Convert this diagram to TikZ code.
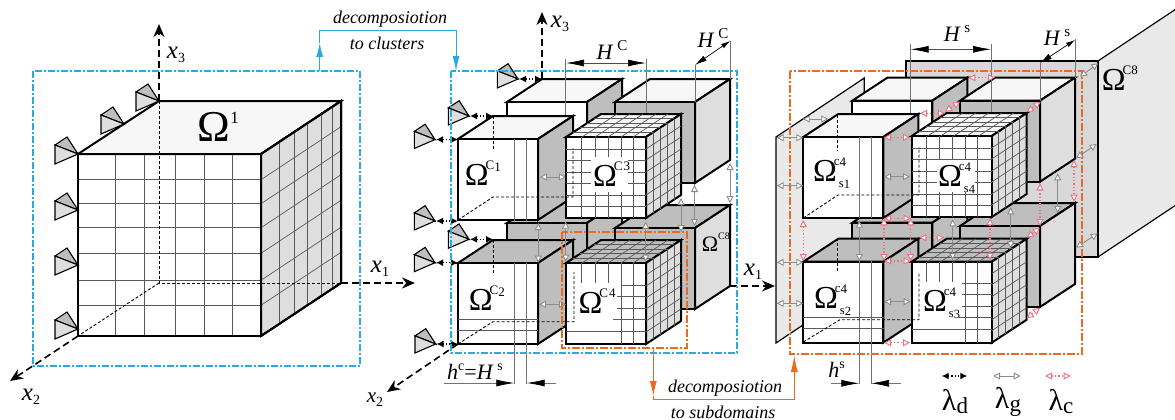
\documentclass[tikz,border=0pt]{standalone}
\usepackage{fontspec}
\setmainfont{Liberation Serif}
\usetikzlibrary{arrows.meta}
\definecolor{blueline}{HTML}{29ABE2}
\definecolor{orangeline}{HTML}{EA6A1F}
\definecolor{pinkline}{HTML}{EE6F7E}
\definecolor{topface}{HTML}{F7F7F7}
\definecolor{sideface}{HTML}{DEDEDE}
\definecolor{darkface}{HTML}{BEBEBE}
\definecolor{plateface}{HTML}{E9E9E9}
\definecolor{plateback}{HTML}{D8D8D8}
% one small cube: x, y of front top left corner, then front, top, side fill
\newcommand{\cube}[5]{
  \draw[cubeline,fill=#4] (#1,#2) -- ++(35,-23) -- ++(80,0) -- ++(-35,23) -- cycle;
  \draw[cubeline,fill=#5] (#1+80,#2) -- ++(35,-23) -- ++(0,81) -- ++(-35,23) -- cycle;
  \draw[cubeline,fill=#3] (#1,#2) rectangle ++(80,81);
}
% grid on the top and side faces of a small cube
\newcommand{\cubegrid}[2]{
  \foreach \t in {0.2,0.4,0.6,0.8} {
    \draw[gridline] (#1+35*\t,#2-23*\t) -- ++(80,0);
    \draw[gridline] (#1+80+35*\t,#2-23*\t) -- ++(0,81);
  }
  \foreach \v in {16,29,42,55,67} \draw[gridline] (#1+\v,#2) -- ++(35,-23);
  \foreach \v in {12,23,35,46,58,69} \draw[gridline] (#1+80,#2+\v) -- ++(35,-23);
}
% support: tip x, y and scale
\newcommand{\support}[3]{
  \begin{scope}[shift={(#1,#2)},scale=#3]
    \draw[line width=1.1pt,fill=darkface] (-23,-9) -- (-11,-17) -- (0,0) -- cycle;
    \draw[line width=1.1pt,fill=sideface] (-23,-9) -- (-23,10) -- (0,0) -- cycle;
  \end{scope}
}
\newcommand{\omname}[2]{Ω\rlap{\kern-3pt\raisebox{.5em}{\fontsize{13}{13}\selectfont #1}}\rlap{\kern2pt\raisebox{-.2em}{\fontsize{12.5}{12.5}\selectfont #2}}}
\newcommand{\xname}[1]{\textit{x}\raisebox{-4pt}{\fontsize{14}{14}\selectfont #1}}
\newcommand{\Hname}[1]{\textit{H}\,\raisebox{9pt}{\fontsize{15}{15}\selectfont #1}}
\begin{document}
\begin{tikzpicture}[x=1pt, y=-1pt,
  cubeline/.style={line width=2pt, line join=miter},
  gridline/.style={line width=0.7pt, black!65},
  dimline/.style={line width=0.8pt, black!55},
  hiddenline/.style={line width=0.9pt, dash pattern=on 3pt off 2pt},
  axisline/.style={line width=1.6pt, dash pattern=on 7pt off 4pt, -{Stealth[length=13pt,width=11pt]}},
  dimarrow/.style={line width=0.7pt, black!70, {Latex[black,length=18pt,width=7pt]}-{Latex[black,length=18pt,width=7pt]}},
  dimtip/.style={line width=0.7pt, black!55, -{Latex[black,length=18pt,width=7pt]}},
  blueframe/.style={blueline, line width=1.3pt, dash pattern=on 7pt off 2pt on 2pt off 2pt},
  orangeframe/.style={orangeline, line width=1.5pt, dash pattern=on 8pt off 2pt on 2pt off 2pt},
  lamd/.style={line width=1.3pt, dotted, {Latex[length=7pt,width=7pt]}-{Latex[length=7pt,width=7pt]}},
  lamg/.style={line width=0.9pt, black!45, {Triangle[open,fill=white,length=7pt,width=7pt]}-{Triangle[open,fill=white,length=7pt,width=7pt]}},
  lamc/.style={line width=1.3pt, pinkline, dotted, {Triangle[open,fill=white,length=7pt,width=7pt,line width=.9pt]}-{Triangle[open,fill=white,length=7pt,width=7pt,line width=.9pt]}},
  omnode/.style={font=\fontsize{32}{32}\selectfont, inner sep=0pt},
  xnode/.style={font=\fontsize{25}{25}\selectfont, inner sep=0pt},
  hnode/.style={font=\fontsize{22}{22}\selectfont, inner sep=0pt},
  capnode/.style={font=\itshape\fontsize{18}{18}\selectfont, inner sep=0pt},
  lamnode/.style={font=\fontsize{30}{30}\selectfont, inner sep=0pt}]
\useasboundingbox (0,0) rectangle (1175,420);

%%% Left cube
\draw[axisline] (159,101) -- (159,24);
\draw[axisline] (341,283) -- (415,283);
\draw[axisline] (78,336) -- (10,381);
\draw[blueframe] (33,71) rectangle (360,366);
\fill[white] (78,154) rectangle (261,336);
\draw[cubeline,fill=topface] (78,154) -- (159,101) -- (341,101) -- (261,154) -- cycle;
\draw[cubeline,fill=sideface] (261,154) -- (341,101) -- (341,283) -- (261,336) -- cycle;
% mesh
\foreach \v in {115.7,144.7,175.3,204.7,232.7} \draw[gridline] (\v,154) -- (\v,336);
\foreach \v in {179.7,203.7,227.7,253.3,280.3,305.3} {
  \draw[gridline] (78,\v) -- (261,\v);
  \draw[gridline] (261,\v) -- ++(80,-53);
}
\foreach \t in {0.23,0.42,0.58,0.75,0.89} \draw[gridline] (261+80*\t,154-53*\t) -- ++(0,182);
% hidden edges
\draw[hiddenline] (159,101) -- (159,283) -- (341,283);
\draw[hiddenline] (159,283) -- (78,336);
\draw[cubeline] (78,154) rectangle (261,336);
\draw[cubeline] (261,154) -- (341,101) -- (341,283) -- (261,336);
\support{78}{154}{1}
\support{124}{124}{1}
\support{159}{101}{1}
\support{78}{210}{1}
\support{78}{265}{1}
\support{78}{329}{1}
\node[omnode, font=\fontsize{44}{44}\selectfont] (om1) at (214,127) {Ω\rlap{\raisebox{.4em}{\fontsize{17}{17}\selectfont 1}}};
\node[xnode] (x3a) at (176,55) {\xname{3}};
\node[xnode] (x1a) at (380,269) {\xname{1}};
\node[xnode] (x2a) at (31,397) {\xname{2}};

% decomposition to clusters
\draw[blueline, line width=1pt, -{Latex[length=14pt,width=7pt]}] (319.7,71) -- (319.7,43);
\draw[blueline, line width=1pt, -{Latex[length=15pt,width=7pt]}] (319.7,43) -- (319.7,30.3) -- (456,30.3) -- (456,71);
\node[capnode] (capa) at (390,19) {decomposiotion};
\node[capnode] (capb) at (387,43) {to clusters};

%%% Clusters
\draw[axisline] (542,79) -- (542,12);
\draw[axisline] (730,286) -- (775,286);
\draw[axisline] (458,344) -- (387,392);
\cube{507}{223}{darkface}{darkface}{darkface}
\cube{615}{228}{darkface}{darkface}{sideface}
\cube{507}{102}{white}{topface}{darkface}
\cube{615}{102}{darkface}{topface}{sideface}
% dimension lines
\draw[dimline] (565.7,59) -- (565.7,137);
\draw[dimline] (646,59) -- (646,137);
\draw[dimline] (695,65) -- (695,102);
\draw[dimline] (730,41) -- (730,79);
\cube{458}{139}{white}{topface}{darkface}
\cube{566}{137}{white}{topface}{sideface}
\cubegrid{566}{137}
\foreach \v in {15.7,29,42,55,67} \draw[gridline] (566+\v,137) -- ++(0,81);
\foreach \v in {12,23,35,46,58,69} \draw[gridline] (566,137+\v) -- ++(80,0);
\cube{458}{263}{white}{darkface}{darkface}
\cube{566}{263}{white}{darkface}{sideface}
\cubegrid{566}{263}
\foreach \v in {15.7,29,42} \draw[gridline] (566+\v,263) -- ++(0,20);
\foreach \v in {55,67} \draw[gridline] (566+\v,263) -- ++(0,81);
\foreach \v/\w in {22/55,33/51,45/51,56/47,68/0} \draw[gridline] (566+\w,263+\v) -- (646,263+\v);
\draw[dimline] (514.3,139) -- (514.3,221);
\draw[dimline] (526.7,139) -- (526.7,221);
\draw[dimline] (514.3,263) -- (514.3,384);
\draw[dimline] (526.7,263) -- (526.7,384);
\draw[gridline] (458,319.3) -- (538,319.3);
\draw[gridline] (458,330) -- (538,330);
% hidden edges
\draw[hiddenline] (493,116) -- (493,151);
\draw[hiddenline] (458,220) -- (493,197) -- (573,197) -- (573,148);
\draw[hiddenline] (493,240) -- (493,275);
\draw[hiddenline] (458,344) -- (493,321.7) -- (574,321.7) -- (574,272);
\fill[white] (591,157) rectangle (628,192);
\node[omnode] (c3) at (605,177) {\omname{C\kern1pt 3}{}};
\node[omnode] (c1) at (476.7,176.7) {\omname{C\raisebox{-2pt}{1}}{}};
\node[omnode] (c2) at (480.8,301) {\omname{C\raisebox{-2pt}{2}}{}};
\node[omnode] (c4) at (590.5,304.5) {\omname{C\kern1pt 4}{}};
\node[omnode, font=\fontsize{22}{22}\selectfont] (c8) at (710,242) {Ω\rlap{\raisebox{.55em}{\fontsize{10}{10}\selectfont C8}}};
\node[xnode] (x3b) at (560,24) {\xname{3}};
\node[xnode] (x1b) at (753,272) {\xname{1}};
\node[xnode, font=\fontsize{21}{21}\selectfont] (x2b) at (375,400) {\xname{2}};
% supports
\support{518}{79}{0.9}
\support{469}{116}{0.9}
\support{435}{139.5}{0.9}
\support{435}{221}{0.9}
\support{469}{239.3}{0.9}
\support{435}{262.7}{0.9}
\support{435.7}{344}{0.9}
\draw[lamd] (519,79) -- (542,79);
\draw[lamd] (470,116) -- (493,116);
\draw[lamd] (436,139.5) -- (458,139.5);
\draw[lamd] (436,221) -- (458,221);
\draw[lamd] (470,239.3) -- (493,239.3);
\draw[lamd] (436,262.7) -- (458,262.7);
\draw[lamd] (436.5,344) -- (458,344);
% interface arrows
\draw[lamg] (540,177) -- (566,177);
\draw[lamg] (539,304.3) -- (566,304.3);
\draw[lamg] (538.3,223) -- (538.3,262.7);
\draw[lamg] (565.7,221.7) -- (565.7,261.7);
\draw[lamg] (645.7,221.7) -- (645.7,261.7);
\draw[lamg] (681,198) -- (681,232);
\draw[lamg] (694.5,185) -- (694.5,226);
\draw[lamg] (730,163) -- (730,203);
% dimensions
\draw[dimarrow] (566,63) -- (646,63);
\draw[line width=0.7pt, {Latex[length=12pt,width=6pt]}-{Latex[length=9pt,width=5pt]}] (695,65) -- (730,41);
\node[hnode] (hc) at (612,50) {\Hname{C}};
\node[hnode] (hd) at (713,38) {\Hname{C}};
\draw[dimtip] (444.3,383) -- (514.3,383);
\draw[dimtip] (556,383) -- (526.7,383);
\node[hnode] (hcs) at (475,372) {\textit{h}\raisebox{9pt}{\fontsize{14}{14}\selectfont c}=\textit{H}\,\raisebox{9pt}{\fontsize{14}{14}\selectfont s}};
\draw[orangeframe] (562,232) rectangle (687,348);
\draw[blueframe] (451,71) rectangle (737,353);

% decomposition to subdomains
\draw[orangeline, line width=1pt, -{Latex[length=15pt,width=7pt]}] (653.3,348) -- (653.3,396);
\draw[orangeline, line width=1pt] (653.3,396) -- (653.3,399) -- (794.3,399) -- (794.3,372);
\draw[orangeline, line width=1pt, -{Latex[length=17pt,width=7pt]}] (794.3,372) -- (794.3,355);
\node[capnode] (capc) at (725,388) {decomposiotion};
\node[capnode] (capd) at (723,412) {to subdomains};

%%% Subdomains
% plates of the neighbour clusters
\draw[cubeline,line width=1.2pt,fill=plateface] (1098,61) -- (1176,9) -- (1176,205) -- (1098,257) -- cycle;
\draw[cubeline,line width=1.2pt,fill=plateback] (906,61) rectangle (1098,257);
\draw[cubeline,line width=1.2pt,fill=plateface] (776,137) -- (864.3,78) -- (864.3,284) -- (776,343) -- cycle;
\cube{852.3}{222.7}{darkface}{darkface}{darkface}
\cube{960}{226}{darkface}{darkface}{sideface}
\cube{852.3}{100.7}{white}{topface}{darkface}
\cube{960}{100.7}{darkface}{topface}{sideface}
\draw[dimline] (910.7,44) -- (910.7,136);
\draw[dimline] (991,44) -- (991,136);
\draw[dimline] (1040,63) -- (1040,100.7);
\draw[dimline] (1075,39) -- (1075,78);
\cube{803.3}{137}{white}{topface}{darkface}
\cube{911.7}{136}{white}{topface}{sideface}
\cubegrid{911.7}{136}
\foreach \v in {15,28,41,54,66} \draw[gridline] (911.7+\v,136) -- ++(0,81);
\foreach \v in {12,23,35,46,58,69} \draw[gridline] (911.7,136+\v) -- ++(80,0);
\cube{803.3}{261.7}{white}{darkface}{darkface}
\cube{911.7}{261.7}{white}{darkface}{sideface}
\cubegrid{911.7}{261.7}
\foreach \v in {15,28,41} \draw[gridline] (911.7+\v,261.7) -- ++(0,20);
\foreach \v in {54,66} \draw[gridline] (911.7+\v,261.7) -- ++(0,81);
\foreach \v/\w in {22/50,33/50,45/50,56/47,68/0} \draw[gridline] (911.7+\w,261.7+\v) -- (991.7,261.7+\v);
\draw[dimline] (859.3,137) -- (859.3,218);
\draw[dimline] (871,137) -- (871,218);
\draw[dimline] (859.3,261) -- (859.3,384);
\draw[dimline] (871,261) -- (871,384);
\draw[gridline] (803.3,317.3) -- (884,317.3);
\draw[gridline] (803.3,328.3) -- (884,328.3);
% hidden edges
\draw[hiddenline] (837.7,114.7) -- (837.7,150);
\draw[hiddenline] (803.3,218) -- (838,195) -- (919,195) -- (919,147);
\draw[hiddenline] (837.7,238) -- (837.7,271);
\draw[hiddenline] (803.3,342) -- (840,319.7) -- (919,319.7) -- (919,272);
\draw[orangeframe] (790,71) rectangle (1082,354);
\fill[white] (937,160) rectangle (975,192);
\node[omnode] (s4) at (950,178) {\omname{c\raisebox{-1pt}{4}}{s\raisebox{-1pt}{4}}};
\node[omnode] (s1) at (825,173) {\omname{c\raisebox{-1pt}{4}}{s\raisebox{-1pt}{1}}};
\node[omnode] (s2) at (826,300) {\omname{c\raisebox{-1pt}{4}}{s\raisebox{-1pt}{2}}};
\node[omnode] (s3) at (935,303) {\omname{c\raisebox{-1pt}{4}}{s\raisebox{-1pt}{3}}};
\node[omnode] (c8b) at (1113.7,81) {\omname{C8}{}};
% interface arrows
\draw[lamg] (776.7,137.7) -- (803.3,137.7);
\draw[lamg] (802.7,119) -- (828.3,119);
\draw[lamg] (776.7,185.7) -- (803.3,185.7);
\draw[lamg] (884,176.7) -- (910,176.7);
\draw[lamg] (776.7,262.3) -- (803.3,262.3);
\draw[lamg] (776.7,303.3) -- (803.3,303.3);
\draw[lamg] (884,301.7) -- (910.7,301.7);
\draw[lamg] (859.3,220.7) -- (859.3,261);
\draw[lamg] (952.7,219.3) -- (952.7,260);
\draw[lamg] (1010.7,207.3) -- (1010.7,248.3);
\draw[lamg] (1057.7,173.3) -- (1057.7,213);
\draw[lamg] (1076,158.3) -- (1096.7,144);
\draw[lamg] (1080,76.7) -- (1098.3,63.3);
\draw[lamg] (1076,247.7) -- (1097.7,233.3);
\draw[lamc] (968.3,77.7) -- (995,77.7);
\draw[lamc] (920,113.3) -- (945,113.3);
\draw[lamc] (884,137.3) -- (910,137.3);
\draw[lamc] (945,111.7) -- (960,101.7);
\draw[lamc] (1026.7,112.3) -- (1040.7,101.7);
\draw[lamc] (1040,183.3) -- (1040,226);
\draw[lamc] (1074,160) -- (1074,201.7);
\draw[lamc] (803.3,220) -- (803.3,261);
\draw[lamc] (884,218.3) -- (884,261);
\draw[lamc] (910.7,218.3) -- (910.7,261);
\draw[lamc] (884,218.3) -- (910.7,218.3);
\draw[lamc] (884,261) -- (910.7,261);
\draw[lamc] (919.3,237.7) -- (944.3,237.7);
\draw[lamc] (990,218.3) -- (990,260);
\draw[lamc] (1026.7,237.7) -- (1040,227.7);
\draw[lamc] (884,342.7) -- (910,342.7);
\draw[lamc] (1026.7,318.3) -- (1040,307.7);
% dimensions
\draw[dimarrow] (910.7,49.3) -- (991,49.3);
\draw[line width=0.7pt, {Latex[length=12pt,width=6pt]}-{Latex[length=9pt,width=5pt]}] (1040,63) -- (1075,40);
\node[hnode] (hs) at (957,33) {\Hname{s}};
\node[hnode] (ht) at (1057,37) {\Hname{s}};
\draw[dimtip] (830.7,383.3) -- (859.3,383.3);
\draw[dimtip] (901,383.3) -- (871,383.3);
\node[hnode] (hss) at (836.7,370) {\textit{h}\raisebox{9pt}{\fontsize{14}{14}\selectfont s}};

%%% Legend
\draw[lamd] (941.7,376) -- (967.3,376);
\draw[lamg] (993,376) -- (1020.7,376);
\draw[lamc] (1045,376) -- (1070.7,376);
\node[lamnode] (ld) at (955,402) {λ\raisebox{-3pt}{\fontsize{23}{23}\selectfont d}};
\node[lamnode] (lg) at (1008,402) {λ\raisebox{-3pt}{\fontsize{23}{23}\selectfont g}};
\node[lamnode] (lc) at (1061,402) {λ\raisebox{-3pt}{\fontsize{23}{23}\selectfont c}};
\end{tikzpicture}
\end{document}
